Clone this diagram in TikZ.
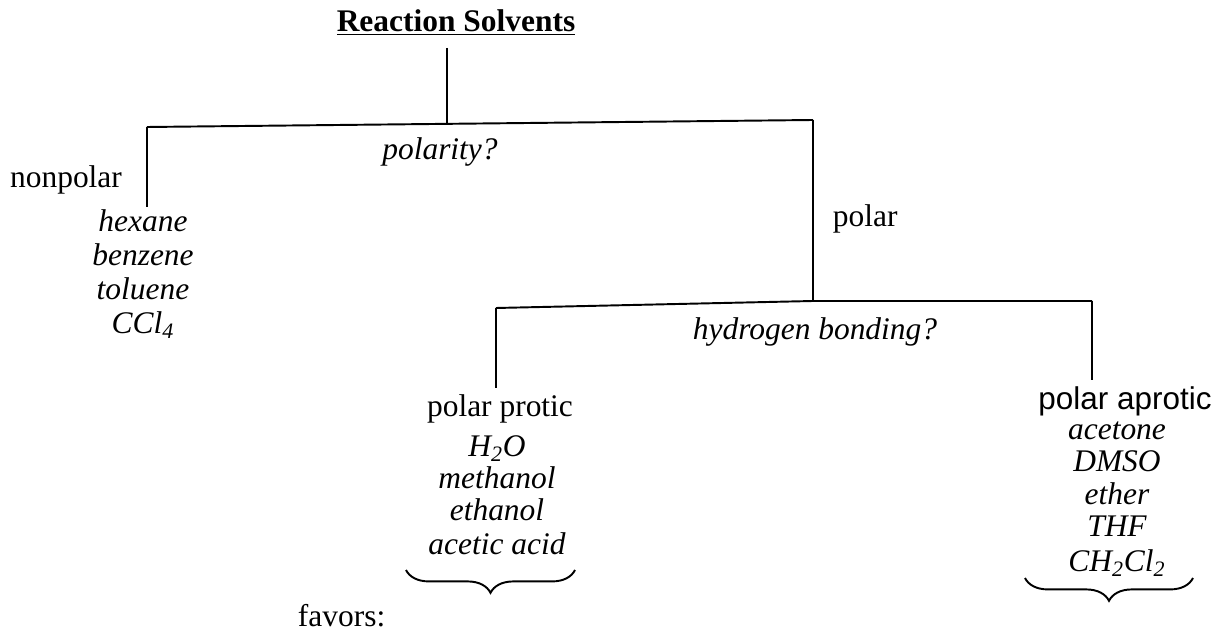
\documentclass[tikz,border=0pt]{standalone}
\usepackage{fontspec}
\setmainfont{Liberation Serif}
\newfontfamily\sansfont{Liberation Sans}
\usetikzlibrary{decorations.pathreplacing}

\newcommand{\treefont}{\fontsize{17.9}{20}\selectfont}
\tikzset{
  lbl/.style={inner sep=0pt, anchor=base, font=\treefont},
  solv/.style={inner sep=0pt, anchor=base, font=\treefont\itshape},
  group/.style={decorate, decoration={brace, mirror, amplitude=13pt}},
}

\begin{document}
\begin{tikzpicture}[x=0.02cm, y=-0.02cm, line width=1.1pt]
  \useasboundingbox (0,0) rectangle (1215,638);
  % junctions of the tree
  \coordinate (T) at (447,48);
  \coordinate (A) at (147,127);
  \coordinate (AT) at (447,124);
  \coordinate (B) at (813,120);
  \coordinate (AE) at (147,207);
  \coordinate (C) at (813,301);
  \coordinate (CL) at (496,308);
  \coordinate (CR) at (1092,301);
  \coordinate (CLE) at (496,388);
  \coordinate (CRE) at (1092,380);
  % title
  \node[lbl] (title) at (456,32) {\underline{\textbf{Reaction Solvents}}};
  \draw (T)--(AT);
  \draw (A)--(B);
  \draw (A)--(AE);
  \draw (B)--(C);
  \node[solv] (polarity) at (440,160) {polarity?};
  % nonpolar branch
  \node[lbl] (nonpolar) at (66,188) {nonpolar};
  \node[solv] (hexane) at (143,232) {hexane};
  \node[solv] (benzene) at (143,266) {benzene};
  \node[solv] (toluene) at (143,300) {toluene};
  \node[solv] (ccl) at (143,334) {CCl\textsubscript{4}};
  % polar branch
  \node[lbl,anchor=base west] (polar) at (832,227) {polar};
  \draw (CL)--(C)--(CR);
  \draw (CL)--(CLE);
  \draw (CR)--(CRE);
  \node[solv] (hbond) at (815,340) {hydrogen bonding?};
  % protic
  \node[lbl] (protic) at (500,417) {polar protic};
  \node[solv] (water) at (497,457) {H\textsubscript{2}O};
  \node[solv] (methanol) at (497,489) {methanol};
  \node[solv] (ethanol) at (497,521) {ethanol};
  \node[solv] (acetic) at (497,555) {acetic acid};
  \coordinate (PL) at (406,570);
  \coordinate (PR) at (575,570);
  \draw[group] (PL)--(PR);
  % aprotic
  \node[lbl,font=\treefont\sansfont] (aprotic) at (1125,410) {polar aprotic};
  \node[solv] (acetone) at (1117,440) {acetone};
  \node[solv] (dmso) at (1117,472) {DMSO};
  \node[solv] (ether) at (1117,505) {ether};
  \node[solv] (thf) at (1117,537) {THF};
  \node[solv] (dcm) at (1117,572) {CH\textsubscript{2}Cl\textsubscript{2}};
  \coordinate (QL) at (1025,578);
  \coordinate (QR) at (1193,578);
  \draw[group] (QL)--(QR);
  \node[lbl,anchor=base west] (favors) at (297,627) {favors:};
\end{tikzpicture}
\end{document}
